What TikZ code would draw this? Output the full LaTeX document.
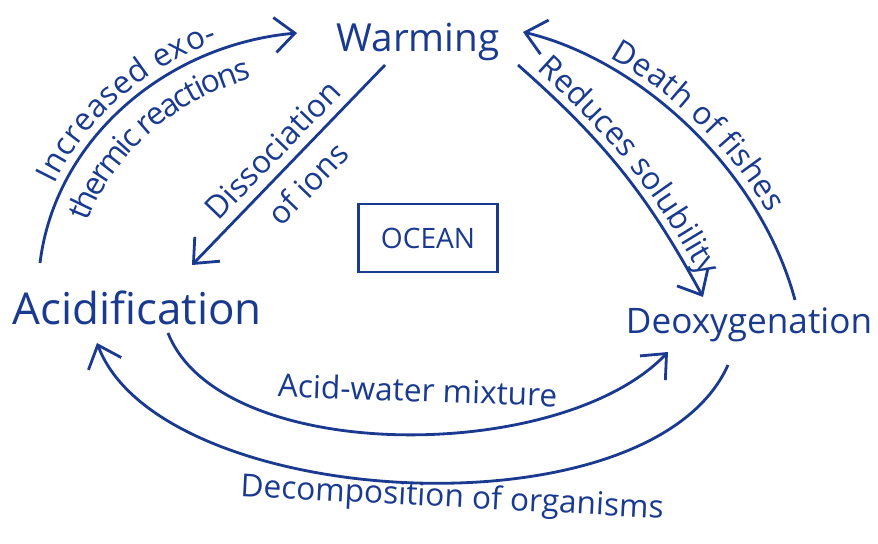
\documentclass[tikz,border=0pt]{standalone}
\usepackage{fontspec}
\setmainfont{Open Sans}
\usepackage{tikz}
\usetikzlibrary{arrows.meta}
\usetikzlibrary{decorations, decorations.text}
\usetikzlibrary{positioning}
\usepackage{xcolor}
\definecolor{ink}{HTML}{1A3A8F}
\tikzset{>={Straight Barb[length=4mm,width=7mm]}}
\tikzset{pen/.style={draw=ink, line width=1.6pt}}
\tikzset{effect/.style={text=ink, font=\fontsize{22}{24}\selectfont}}
\tikzset{lbl/.style={text=ink, font=\fontsize{18}{20}\selectfont}}
\newcommand{\lblfont}{\fontsize{18}{20}\selectfont\color{ink}}

\begin{document}
\begin{tikzpicture}[x=0.2mm,y=-0.2mm]
		\path[use as bounding box, fill=white] (0,0) rectangle (878,544);
		%effects
		\node[effect] (warming) at (418,42) {Warming};
		\node[effect, font=\fontsize{25}{27}\selectfont] (acid) at (137,308) {Acidification};
		\node[effect, font=\fontsize{20}{22}\selectfont] (deox) at (749,325) {Deoxygenation};
		%ocean box
		\node[pen, text=ink, minimum width=27.8mm, minimum height=13.6mm, font=\fontsize{16}{18}\selectfont] (ocean) at (428,238) {OCEAN};
		%increased exothermic reactions
		\draw[pen,->] ([shift={(-97,-45)}]acid.center) .. controls (55,140) and (165,45) .. ([shift={(-121,-9)}]warming.center);
		\path[decorate, decoration={text along path, raise=5pt, text align=center, text={|\lblfont|Increased exo-}}] ([shift={(-97,-45)}]acid.center) .. controls (55,140) and (165,45) .. ([shift={(-121,-9)}]warming.center);
		\path[decorate, decoration={text along path, raise=-21pt, text align=center, text={|\lblfont|thermic reactions}}] ([shift={(-97,-45)}]acid.center) .. controls (55,140) and (165,45) .. ([shift={(-121,-9)}]warming.center);
		%dissociation of ions
		\draw[pen,<-] ([shift={(55,-43)}]acid.center) -- ([shift={(-33,23)}]warming.center);
		\path[decorate, decoration={text along path, raise=6pt, text align=center, text={|\lblfont|Dissociation}}] ([shift={(55,-43)}]acid.center) -- ([shift={(-33,23)}]warming.center);
		\path[decorate, decoration={text along path, raise=-22pt, text align=center, text={|\lblfont|of ions}}] ([shift={(55,-43)}]acid.center) -- ([shift={(-33,23)}]warming.center);
		%reduces solubility
		\draw[pen,->] ([shift={(100,23)}]warming.center) to[bend left=10] ([shift={(-46,-28)}]deox.center);
		\path[decorate, decoration={text along path, raise=5pt, text align=center, text={|\lblfont|Reduces solubility}}] ([shift={(100,23)}]warming.center) to[bend left=10] ([shift={(-46,-28)}]deox.center);
		%death of fishes
		\draw[pen,<-] ([shift={(105,-10)}]warming.center) .. controls (640,60) and (760,170) .. ([shift={(46,-25)}]deox.center);
		\path[decorate, decoration={text along path, raise=5pt, text align=center, text={|\lblfont|Death of fishes}}] ([shift={(105,-10)}]warming.center) .. controls (640,60) and (760,170) .. ([shift={(46,-25)}]deox.center);
		%acid-water mixture
		\draw[pen,->] ([shift={(31,25)}]acid.center) .. controls (220,465) and (560,465) .. ([shift={(-81,27)}]deox.center) node[lbl, midway, above=5mm, xshift=4mm, rotate=-2] (mixture) {Acid-water mixture};
		%decomposition of organisms
		\draw[pen,<-] ([shift={(-40,35)}]acid.center) .. controls (160,510) and (650,540) .. ([shift={(-21,40)}]deox.center);
		\node[lbl, rotate=-3] (decomp) at (452,499) {Decomposition of organisms};
	\end{tikzpicture}
\end{document}
